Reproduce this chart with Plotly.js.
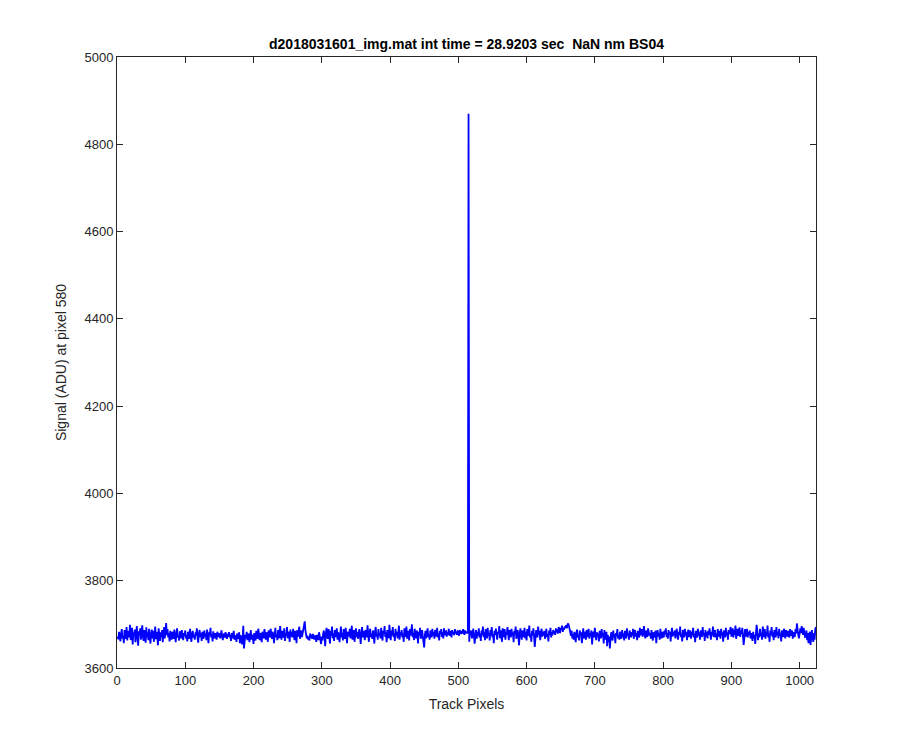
<!DOCTYPE html>
<html>
<head>
<meta charset="utf-8">
<script src="https://cdn.plot.ly/plotly-3.0.1.min.js"></script>
<style>html,body{margin:0;padding:0;background:#fff;}#chart{width:900px;height:750px;}</style>
</head>
<body>
<div id="chart"></div>
<script>
// Signal (ADU) at pixel 580 for track pixels 1..1024
const signalValues = [
3672,3666,3683,3675,3661,3680,3689,3668,3673,3657,3687,3677,3667,3694,3663,3679,
3685,3670,3699,3664,3676,3692,3654,3682,3674,3688,3659,3677,3696,3668,3651,3684,
3675,3691,3665,3680,3698,3671,3662,3687,3676,3658,3693,3670,3682,3664,3690,3674,
3656,3679,3688,3668,3685,3660,3676,3695,3666,3683,3672,3652,3691,3675,3662,3682,
3671,3687,3659,3678,3694,3668,3682,3703,3675,3689,3670,3680,3661,3685,3674,3665,
3683,3676,3667,3688,3671,3659,3679,3691,3670,3675,3663,3684,3678,3668,3687,3672,
3664,3680,3674,3686,3668,3676,3661,3683,3678,3667,3690,3672,3660,3679,3685,3670,
3675,3665,3682,3674,3691,3668,3658,3678,3687,3671,3680,3662,3683,3675,3667,3686,
3672,3679,3664,3688,3676,3657,3682,3674,3692,3670,3678,3661,3684,3676,3668,3680,
3674,3665,3683,3678,3671,3680,3668,3676,3686,3672,3664,3679,3675,3670,3682,3674,
3667,3678,3672,3682,3670,3676,3662,3680,3674,3668,3685,3665,3675,3671,3660,3679,
3672,3667,3682,3657,3675,3670,3654,3665,3697,3645,3660,3676,3668,3683,3664,3674,
3679,3659,3671,3687,3665,3676,3670,3655,3680,3672,3663,3685,3675,3667,3690,3671,
3664,3680,3674,3659,3683,3676,3668,3689,3671,3665,3682,3675,3660,3686,3678,3670,
3690,3672,3667,3683,3676,3657,3680,3692,3671,3675,3664,3687,3679,3668,3696,3674,
3665,3685,3676,3670,3691,3662,3680,3674,3694,3668,3683,3678,3660,3688,3672,3682,
3670,3690,3675,3664,3685,3679,3657,3687,3672,3680,3695,3667,3676,3686,3671,3682,
3691,3697,3707,3687,3678,3668,3674,3665,3671,3663,3679,3674,3670,3667,3678,3672,
3665,3675,3668,3660,3676,3671,3664,3682,3674,3667,3655,3672,3663,3679,3686,3670,
3650,3680,3692,3672,3667,3689,3676,3656,3685,3674,3695,3668,3679,3662,3687,3678,
3671,3691,3665,3682,3675,3659,3686,3695,3670,3680,3663,3689,3674,3667,3692,3676,
3657,3683,3678,3672,3690,3668,3680,3697,3665,3675,3687,3660,3679,3691,3671,3683,
3667,3676,3689,3672,3655,3680,3694,3670,3685,3675,3664,3687,3678,3670,3698,3675,
3660,3682,3690,3671,3679,3667,3686,3676,3656,3683,3694,3672,3678,3665,3689,3674,
3680,3668,3692,3675,3663,3685,3678,3696,3671,3682,3659,3687,3676,3668,3699,3679,
3664,3686,3675,3694,3671,3680,3662,3690,3674,3683,3668,3678,3697,3665,3682,3675,
3687,3670,3679,3660,3691,3676,3672,3695,3667,3685,3678,3663,3689,3674,3682,3700,
3671,3680,3664,3690,3675,3668,3686,3678,3656,3683,3674,3692,3667,3679,3687,3672,
3662,3647,3676,3685,3668,3680,3691,3671,3675,3665,3686,3678,3670,3690,3674,3682,
3667,3687,3676,3672,3692,3670,3680,3663,3685,3678,3689,3671,3682,3668,3691,3675,
3679,3686,3672,3682,3676,3690,3674,3680,3685,3670,3687,3678,3682,3675,3689,3679,
3683,3676,3686,3680,3674,3687,3682,3678,3685,3679,3689,3682,3676,3686,3680,3683,
3679,3684,4870,3660,3683,3675,3686,3668,3680,3690,3671,3656,3676,3687,3667,3682,
3674,3691,3670,3679,3662,3686,3676,3695,3671,3682,3664,3689,3678,3668,3692,3674,
3680,3663,3687,3675,3694,3670,3678,3657,3685,3676,3690,3672,3665,3683,3679,3696,
3668,3686,3675,3660,3691,3680,3671,3689,3665,3682,3676,3694,3672,3664,3687,3678,
3670,3690,3674,3682,3659,3685,3678,3695,3667,3679,3687,3671,3652,3680,3691,3675,
3665,3686,3676,3671,3692,3668,3683,3663,3689,3674,3680,3697,3670,3678,3660,3685,
3675,3691,3672,3648,3667,3687,3678,3670,3695,3676,3685,3664,3680,3690,3672,3683,
3674,3685,3667,3680,3690,3671,3678,3661,3686,3676,3692,3670,3682,3675,3687,3679,
3684,3676,3691,3682,3688,3679,3694,3686,3680,3692,3687,3697,3683,3691,3688,3695,
3692,3698,3691,3700,3702,3697,3690,3682,3674,3686,3668,3678,3665,3683,3675,3659,
3680,3688,3670,3676,3663,3686,3674,3682,3657,3678,3691,3668,3683,3675,3665,3687,
3676,3671,3690,3667,3680,3674,3686,3654,3678,3683,3670,3692,3675,3664,3682,3672,
3679,3661,3685,3676,3668,3689,3672,3680,3656,3687,3671,3665,3683,3650,3676,3659,
3672,3645,3665,3682,3674,3663,3686,3670,3678,3657,3680,3674,3689,3668,3676,3665,
3683,3675,3667,3687,3671,3679,3663,3685,3676,3668,3691,3674,3680,3665,3686,3678,
3670,3682,3674,3690,3667,3679,3687,3672,3680,3664,3685,3676,3670,3692,3675,3682,
3689,3672,3680,3696,3676,3668,3686,3679,3671,3691,3683,3674,3680,3667,3687,3678,
3663,3682,3675,3670,3686,3657,3678,3687,3672,3680,3665,3690,3675,3668,3683,3676,
3670,3686,3678,3691,3671,3680,3667,3687,3676,3683,3661,3679,3692,3672,3682,3675,
3686,3668,3680,3690,3674,3665,3683,3676,3695,3671,3679,3661,3687,3678,3670,3690,
3674,3683,3664,3680,3688,3671,3678,3686,3667,3682,3675,3692,3670,3679,3659,3685,
3676,3670,3690,3674,3682,3665,3686,3678,3671,3694,3675,3680,3662,3687,3672,3682,
3668,3685,3676,3691,3672,3665,3683,3675,3695,3671,3680,3687,3670,3678,3664,3689,
3679,3672,3685,3667,3690,3675,3682,3660,3686,3678,3670,3692,3674,3682,3665,3687,
3678,3685,3694,3672,3682,3691,3670,3687,3676,3697,3667,3683,3690,3674,3680,3693,
3671,3686,3678,3692,3675,3653,3667,3689,3679,3672,3690,3670,3682,3676,3686,3668,
3680,3674,3662,3683,3668,3676,3655,3679,3699,3686,3664,3678,3670,3690,3674,3680,
3665,3695,3675,3671,3689,3667,3682,3674,3697,3670,3679,3660,3686,3676,3694,3672,
3682,3664,3687,3678,3670,3694,3675,3683,3668,3690,3674,3680,3661,3686,3678,3671,
3690,3675,3668,3687,3679,3672,3685,3676,3670,3689,3680,3674,3686,3667,3682,3678,
3671,3689,3679,3702,3683,3676,3668,3687,3691,3680,3696,3685,3676,3692,3682,3671,
3672,3686,3664,3680,3657,3675,3683,3653,3678,3687,3670,3660,3680,3665,3690,3694
];
// Track pixel index (1-based, as MATLAB plot(y))
const trackPixels = signalValues.map((_, i) => i + 1);
const xTicks = [0,100,200,300,400,500,600,700,800,900,1000];
const yTicks = [3600,3800,4000,4200,4400,4600,4800,5000];
const titleText = "d2018031601_img.mat int time = 28.9203 sec  NaN nm BS04";
const xLabel = "Track Pixels";
const yLabel = "Signal (ADU) at pixel 580";

const axisColor = "#262626";
const fontFam = "Liberation Sans, Arial, sans-serif";

const trace = {
  x: trackPixels, y: signalValues, type: "scatter", mode: "lines",
  line: {color: "#0000ff", width: 1.8}, hoverinfo: "skip"
};

const layout = {
  width: 900, height: 750,
  margin: {l: 117, r: 84, t: 57, b: 82},
  paper_bgcolor: "#ffffff", plot_bgcolor: "#ffffff",
  showlegend: false,
  font: {family: fontFam, size: 13, color: axisColor},
  title: {
    text: "<b>" + titleText + "</b>",
    font: {family: fontFam, size: 14, color: "#000000"},
    x: 0.5, xref: "paper", xanchor: "center",
    y: 1 - 44/750, yref: "container", yanchor: "middle"
  },
  xaxis: {
    range: [0, 1024], tickvals: xTicks, ticktext: xTicks.map(String),
    ticks: "inside", ticklen: 6, tickwidth: 1, tickcolor: axisColor,
    showline: true, linecolor: axisColor, linewidth: 1, mirror: "ticks",
    showgrid: false, zeroline: false,
    tickfont: {family: fontFam, size: 13, color: axisColor},
    title: {text: xLabel, standoff: 12, font: {family: fontFam, size: 14, color: axisColor}},
    automargin: false
  },
  yaxis: {
    range: [3600, 5000], tickvals: yTicks, ticktext: yTicks.map(String),
    ticks: "inside", ticklen: 6, tickwidth: 1, tickcolor: axisColor,
    showline: true, linecolor: axisColor, linewidth: 1, mirror: "ticks",
    showgrid: false, zeroline: false,
    tickfont: {family: fontFam, size: 13, color: axisColor},
    title: {text: yLabel, standoff: 14, font: {family: fontFam, size: 14, color: axisColor}},
    automargin: false
  }
};

Plotly.newPlot("chart", [trace], layout, {staticPlot: true, displayModeBar: false});
</script>
</body>
</html>
